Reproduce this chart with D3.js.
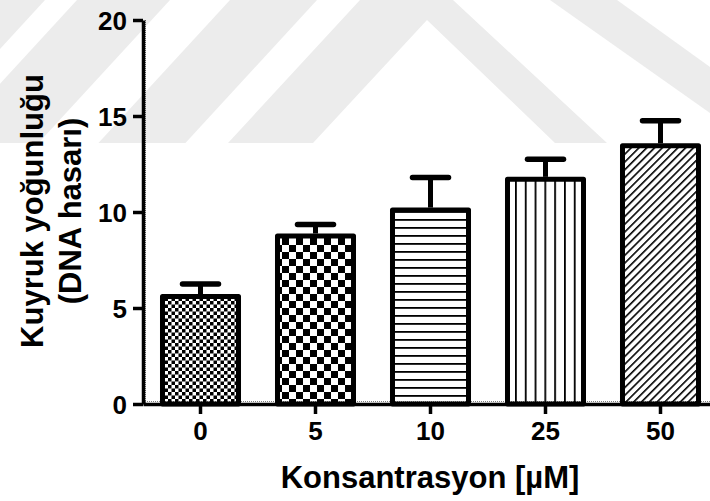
<!DOCTYPE html>
<html>
<head>
<meta charset="utf-8">
<script src="https://cdn.jsdelivr.net/npm/d3@7/dist/d3.min.js"></script>
<style>
  html, body { margin: 0; padding: 0; background: #fff; }
  svg { display: block; }
  text { font-family: "Liberation Sans", Arial, Helvetica, sans-serif; font-weight: bold; fill: #000; }
</style>
</head>
<body>
<svg id="chart" width="710" height="501"></svg>
<script>
// Comet assay: tail intensity by concentration (mean + SEM)
const categories = ["0", "5", "10", "25", "50"];
const means = [5.6, 8.75, 10.1, 11.7, 13.45];
const errors = [0.65, 0.6, 1.7, 1.05, 1.3];
const yTicks = [0, 5, 10, 15, 20];
const fills = ["checkFine", "checkCoarse", "hLines", "vLines", "diag"];

const xTitle = "Konsantrasyon [µM]";
const yTitle = ["Kuyruk yoğunluğu", "(DNA hasarı)"];

const W = 710, H = 501;
const svg = d3.select("#chart");

// faint background emblem
const bg = svg.append("g").attr("fill", "#ececec");
const s = 0.92;
[[-60, 45], [77, 170], [230, 317]].forEach(([a, b]) => {
  bg.append("polygon").attr("points",
    [[a, 0], [b, 0], [b - 143 * s, 143], [a - 143 * s, 143]].map(p => p.join(",")).join(" "));
});
bg.append("polygon").attr("points",
  [[360, 0], [453, 0], [607, 143], [555, 143], [427, 20], [313, 143], [228, 143]].map(p => p.join(",")).join(" "));
bg.append("polygon").attr("points",
  [[550, 0], [617, 0], [710, 67], [710, 113]].map(p => p.join(",")).join(" "));

// fill patterns
const defs = svg.append("defs");
function pat(id, w, h, x0) {
  const p = defs.append("pattern").attr("id", id)
    .attr("patternUnits", "userSpaceOnUse")
    .attr("width", w).attr("height", h).attr("x", x0 || 0).attr("y", 0);
  p.append("rect").attr("width", w).attr("height", h).attr("fill", "#fff");
  return p;
}
let p = pat("checkFine", 7, 7);
p.append("rect").attr("x", 0).attr("y", 0).attr("width", 3.5).attr("height", 3.5).attr("fill", "#000");
p.append("rect").attr("x", 3.5).attr("y", 3.5).attr("width", 3.5).attr("height", 3.5).attr("fill", "#000");
p = pat("checkCoarse", 14, 14, 2);
p.append("rect").attr("x", 0).attr("y", 0).attr("width", 7).attr("height", 7).attr("fill", "#000");
p.append("rect").attr("x", 7).attr("y", 7).attr("width", 7).attr("height", 7).attr("fill", "#000");
p = pat("hLines", 10, 8);
p.append("rect").attr("x", 0).attr("y", 3).attr("width", 10).attr("height", 1.8).attr("fill", "#000");
p = pat("vLines", 9.8, 10, 515);
p.append("rect").attr("x", 0).attr("y", 0).attr("width", 1.8).attr("height", 10).attr("fill", "#000");
p = defs.append("pattern").attr("id", "diag")
  .attr("patternUnits", "userSpaceOnUse")
  .attr("width", 5.5).attr("height", 5.5)
  .attr("patternTransform", "rotate(45)");
p.append("rect").attr("width", 5.5).attr("height", 5.5).attr("fill", "#fff");
p.append("rect").attr("x", 0).attr("y", 0).attr("width", 1.6).attr("height", 5.5).attr("fill", "#000");

// scales
const x = d3.scaleBand().domain(categories).range([143, 718])
  .paddingInner(0.339).paddingOuter(0.1695);
const y = d3.scaleLinear().domain([0, 20]).range([404, 20]);

// bars
svg.append("g").selectAll("rect").data(categories).join("rect")
  .attr("x", d => x(d))
  .attr("y", (d, i) => y(means[i]))
  .attr("width", x.bandwidth())
  .attr("height", (d, i) => y(0) - y(means[i]))
  .attr("fill", (d, i) => `url(#${fills[i]})`)
  .attr("stroke", "#000").attr("stroke-width", 5)
  .attr("stroke-linejoin", "round");

// error bars (upper half only)
const eb = svg.append("g").attr("stroke", "#000");
categories.forEach((c, i) => {
  const cx = x(c) + x.bandwidth() / 2;
  eb.append("line").attr("x1", cx).attr("x2", cx)
    .attr("y1", y(means[i]) - 2.5).attr("y2", y(means[i] + errors[i]))
    .attr("stroke-width", 5);
  eb.append("line").attr("x1", cx - 18).attr("x2", cx + 18)
    .attr("y1", y(means[i] + errors[i])).attr("y2", y(means[i] + errors[i]))
    .attr("stroke-width", 5.5).attr("stroke-linecap", "round");
});

// y axis
const yAxis = svg.append("g").attr("transform", "translate(143,0)")
  .call(d3.axisLeft(y).tickValues(yTicks).tickSize(10).tickPadding(6).tickSizeOuter(0));
yAxis.select(".domain").attr("stroke-width", 3.5);
yAxis.selectAll(".tick line").attr("stroke-width", 3.5);
yAxis.selectAll(".tick text").style("font-size", "26px").attr("dy", "0.36em");
// ruler texture along axis
svg.append("line").attr("x1", 145.5).attr("x2", 145.5).attr("y1", 20).attr("y2", 404)
  .attr("stroke", "#000").attr("stroke-width", 1).attr("stroke-dasharray", "1,1").attr("opacity", 0.6);

// x axis
const xAxis = svg.append("g").attr("transform", "translate(0,404)")
  .call(d3.axisBottom(x).tickSize(10).tickPadding(8).tickSizeOuter(0));
xAxis.select(".domain").attr("stroke-width", 3.5);
xAxis.selectAll(".tick line").attr("stroke-width", 3.5);
xAxis.selectAll(".tick text").style("font-size", "26px").attr("dy", "0.7em");
svg.append("line").attr("x1", 143).attr("x2", 710).attr("y1", 401.5).attr("y2", 401.5)
  .attr("stroke", "#000").attr("stroke-width", 1).attr("stroke-dasharray", "1,1").attr("opacity", 0.5);

// axis titles
svg.append("text").attr("x", 430).attr("y", 488).attr("text-anchor", "middle")
  .style("font-size", "31px").text(xTitle);
const yt = svg.append("text").attr("transform", "translate(0,211) rotate(-90)")
  .attr("text-anchor", "middle").style("font-size", "31px");
yt.append("tspan").attr("x", 0).attr("y", 43).text(yTitle[0]);
yt.append("tspan").attr("x", 0).attr("y", 81).text(yTitle[1]);
</script>
</body>
</html>
